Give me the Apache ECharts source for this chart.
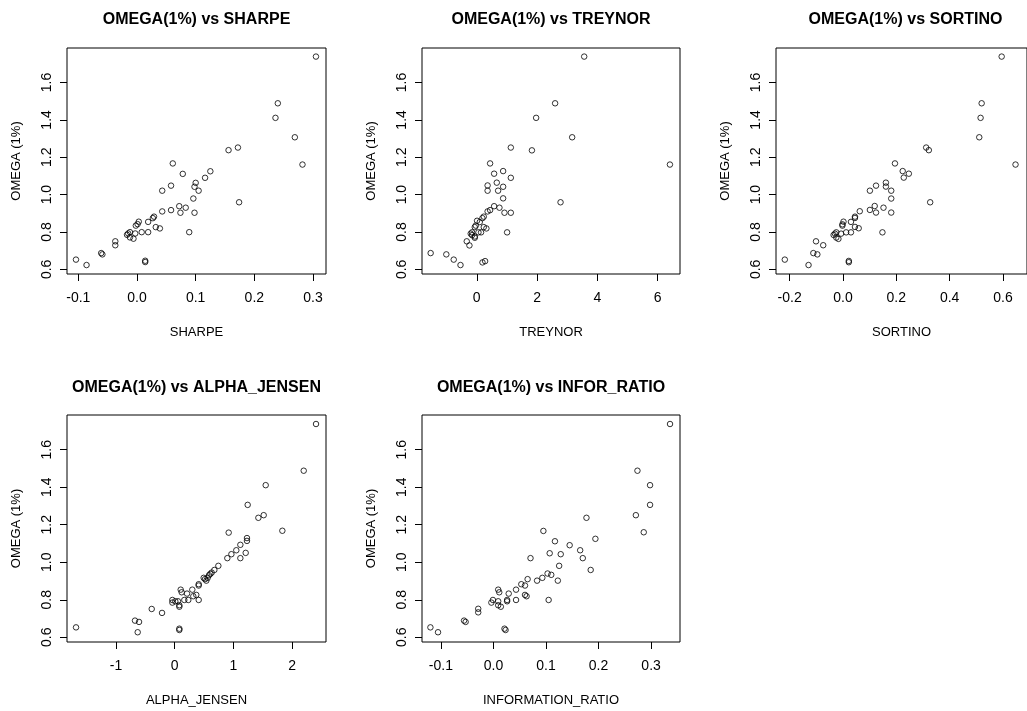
<!DOCTYPE html>
<html>
<head>
<meta charset="utf-8">
<script src="https://cdn.jsdelivr.net/npm/echarts@6/dist/echarts.min.js"></script>
<style>
html,body{margin:0;padding:0;background:#fff;}
#chart{width:1027px;height:711px;}
</style>
</head>
<body>
<div id="chart"></div>
<script>
// ---- Data ----
const panelTitles = ["OMEGA(1%) vs SHARPE", "OMEGA(1%) vs TREYNOR", "OMEGA(1%) vs SORTINO", "OMEGA(1%) vs ALPHA_JENSEN", "OMEGA(1%) vs INFOR_RATIO"];
const xNames = ["SHARPE", "TREYNOR", "SORTINO", "ALPHA_JENSEN", "INFORMATION_RATIO"];
const yName = "OMEGA (1%)";

const yTicks = [0.6, 0.8, 1.0, 1.2, 1.4, 1.6];
const yTickLabels = ["0.6", "0.8", "1.0", "1.2", "1.4", "1.6"];

const sharpeTicks = [-0.1, 0, 0.1, 0.2, 0.3];
const sharpeTickLabels = ["-0.1", "0.0", "0.1", "0.2", "0.3"];
const treynorTicks = [0, 2, 4, 6];
const treynorTickLabels = ["0", "2", "4", "6"];
const sortinoTicks = [-0.2, 0, 0.2, 0.4, 0.6];
const sortinoTickLabels = ["-0.2", "0.0", "0.2", "0.4", "0.6"];
const alphaTicks = [-1, 0, 1, 2];
const alphaTickLabels = ["-1", "0", "1", "2"];
const inforTicks = [-0.1, 0, 0.1, 0.2, 0.3];
const inforTickLabels = ["-0.1", "0.0", "0.1", "0.2", "0.3"];

// [x, omega]
const sharpePts = [[0.305,1.739],[0.240,1.489],[0.236,1.411],[0.269,1.307],[0.282,1.161],[0.156,1.238],[0.172,1.252],[0.174,0.959],[0.061,1.167],[0.078,1.111],[0.125,1.125],[0.116,1.090],[0.058,1.048],[0.043,1.021],[0.100,1.063],[0.098,1.042],[0.105,1.021],[0.096,0.979],[0.072,0.938],[0.083,0.930],[0.074,0.903],[0.058,0.917],[0.043,0.910],[0.098,0.903],[0.089,0.799],[0.029,0.882],[0.027,0.874],[0.032,0.826],[0.039,0.819],[0.019,0.854],[0.019,0.799],[0.008,0.799],[0.003,0.855],[0.001,0.842],[-0.002,0.834],[-0.003,0.792],[-0.006,0.764],[-0.012,0.799],[-0.015,0.792],[-0.017,0.785],[-0.012,0.771],[-0.037,0.750],[-0.037,0.729],[-0.061,0.687],[-0.059,0.680],[-0.104,0.652],[-0.086,0.623],[0.014,0.646],[0.014,0.639]];
const treynorPts = [[3.565,1.739],[2.60,1.489],[1.97,1.411],[3.166,1.307],[6.41,1.161],[1.83,1.237],[1.13,1.252],[2.78,0.959],[0.443,1.167],[0.576,1.112],[0.875,1.126],[1.13,1.090],[0.36,1.049],[0.36,1.021],[0.664,1.064],[0.875,1.042],[0.708,1.021],[0.875,0.980],[0.576,0.938],[0.753,0.930],[1.13,0.903],[0.443,0.917],[0.36,0.910],[0.92,0.903],[1.007,0.798],[0.233,0.882],[0.188,0.874],[0.10,0.853],[0.01,0.860],[-0.033,0.834],[-0.066,0.826],[0.233,0.826],[0.32,0.819],[0.143,0.798],[0.056,0.798],[-0.156,0.798],[-0.2,0.791],[-0.156,0.783],[-0.066,0.776],[-0.066,0.769],[-0.332,0.750],[-0.243,0.728],[-1.53,0.687],[-1.01,0.680],[-0.764,0.652],[-0.54,0.623],[0.19,0.637],[0.277,0.644]];
const sortinoPts = [[0.595,1.739],[0.520,1.489],[0.516,1.411],[0.511,1.307],[0.647,1.161],[0.322,1.238],[0.312,1.252],[0.327,0.959],[0.195,1.167],[0.247,1.112],[0.224,1.126],[0.228,1.091],[0.124,1.048],[0.101,1.021],[0.161,1.064],[0.161,1.043],[0.181,1.021],[0.181,0.979],[0.119,0.939],[0.152,0.930],[0.124,0.904],[0.101,0.918],[0.063,0.911],[0.181,0.904],[0.148,0.798],[0.045,0.882],[0.045,0.875],[0.030,0.854],[0.045,0.827],[0.059,0.820],[0.030,0.798],[0.012,0.798],[0.002,0.855],[-0.002,0.841],[-0.002,0.834],[-0.007,0.791],[-0.017,0.763],[-0.025,0.798],[-0.030,0.791],[-0.035,0.784],[-0.025,0.770],[-0.101,0.750],[-0.074,0.729],[-0.111,0.687],[-0.096,0.680],[-0.218,0.652],[-0.129,0.623],[0.022,0.645],[0.022,0.638]];
const alphaPts = [[2.409,1.737],[2.199,1.488],[1.551,1.411],[1.244,1.306],[1.426,1.237],[1.517,1.251],[1.835,1.168],[0.920,1.158],[1.232,1.129],[1.232,1.114],[1.119,1.093],[1.05,1.064],[0.966,1.043],[0.897,1.022],[1.119,1.022],[1.21,1.050],[0.744,0.981],[0.676,0.959],[0.63,0.945],[0.607,0.938],[0.585,0.931],[0.562,0.917],[0.516,0.910],[0.539,0.902],[0.494,0.917],[0.409,0.883],[0.409,0.876],[0.30,0.854],[0.21,0.833],[0.368,0.826],[0.317,0.819],[0.409,0.799],[0.102,0.854],[0.119,0.840],[0.232,0.799],[0.164,0.799],[-0.04,0.799],[-0.04,0.785],[0.01,0.792],[0.056,0.792],[0.079,0.771],[0.079,0.763],[-0.216,0.730],[-0.392,0.751],[-0.677,0.689],[-0.608,0.682],[-0.631,0.627],[-1.682,0.653],[0.079,0.646],[0.079,0.639]];
const inforPts = [[0.336,1.737],[0.274,1.488],[0.298,1.411],[0.298,1.306],[0.271,1.251],[0.177,1.237],[0.286,1.160],[0.095,1.167],[0.194,1.125],[0.117,1.112],[0.145,1.091],[0.165,1.064],[0.107,1.048],[0.128,1.043],[0.170,1.022],[0.0705,1.022],[0.125,0.981],[0.185,0.959],[0.103,0.940],[0.110,0.933],[0.093,0.917],[0.083,0.902],[0.1225,0.902],[0.105,0.799],[0.065,0.910],[0.053,0.883],[0.060,0.876],[0.043,0.854],[0.060,0.826],[0.063,0.819],[0.043,0.799],[0.029,0.833],[0.026,0.799],[0.026,0.792],[0.009,0.854],[0.011,0.840],[-0.001,0.799],[-0.004,0.785],[0.009,0.792],[0.009,0.771],[0.014,0.763],[-0.029,0.752],[-0.029,0.733],[-0.056,0.689],[-0.053,0.682],[-0.120,0.653],[-0.1055,0.627],[0.021,0.646],[0.023,0.639]];

// axis ranges (R-style 4% padding)
const xRanges = [[-0.1193, 0.3221], [-1.817, 6.744], [-0.251, 0.690], [-1.836, 2.579], [-0.136, 0.355]];
const yRange = [0.575, 1.785];

// ---- Layout ----
const grids = [
  {left: 67, top: 48, width: 259, height: 226},
  {left: 422, top: 48, width: 258, height: 226},
  {left: 776, top: 48, width: 259, height: 226},
  {left: 67, top: 415, width: 259, height: 227},
  {left: 422, top: 415, width: 258, height: 227}
];
const titleY = [12, 12, 12, 380, 380];

const allPts = [sharpePts, treynorPts, sortinoPts, alphaPts, inforPts];
const allTicks = [sharpeTicks, treynorTicks, sortinoTicks, alphaTicks, inforTicks];
const allTickLabels = [sharpeTickLabels, treynorTickLabels, sortinoTickLabels, alphaTickLabels, inforTickLabels];

const FONT = "'Liberation Sans', Arial, sans-serif";
function labelOf(ticks, labels) {
  return function (v) {
    for (let i = 0; i < ticks.length; i++) if (Math.abs(ticks[i] - v) < 1e-9) return labels[i];
    return '';
  };
}

const option = {
  animation: false,
  backgroundColor: '#fff',
  title: grids.map((g, i) => ({
    text: panelTitles[i],
    left: g.left + g.width / 2,
    top: titleY[i],
    textAlign: 'center',
    padding: 0,
    textStyle: {fontFamily: FONT, fontWeight: 'bold', fontSize: 16, color: '#000'}
  })),
  grid: grids.map(g => Object.assign({show: true, borderColor: '#000', borderWidth: 1, backgroundColor: 'transparent'}, g)),
  xAxis: grids.map((g, i) => ({
    type: 'value', gridIndex: i, position: 'bottom',
    min: xRanges[i][0], max: xRanges[i][1],
    name: xNames[i], nameLocation: 'middle', nameGap: 52,
    nameTextStyle: {fontFamily: FONT, fontSize: 13, color: '#000'},
    axisLine: {show: false, onZero: false},
    splitLine: {show: false},
    axisTick: {show: true, length: 7, lineStyle: {color: '#000', width: 1}, customValues: allTicks[i]},
    axisLabel: {show: true, margin: 17, fontFamily: FONT, fontSize: 14, color: '#000',
      customValues: allTicks[i], formatter: labelOf(allTicks[i], allTickLabels[i])}
  })),
  yAxis: grids.map((g, i) => ({
    type: 'value', gridIndex: i, position: 'left',
    min: yRange[0], max: yRange[1],
    name: yName, nameLocation: 'middle', nameGap: 44, nameRotate: 90,
    nameTextStyle: {fontFamily: FONT, fontSize: 13, color: '#000'},
    axisLine: {show: false, onZero: false},
    splitLine: {show: false},
    axisTick: {show: true, length: 7, lineStyle: {color: '#000', width: 1}, customValues: yTicks},
    axisLabel: {show: true, margin: 13, rotate: 90, fontFamily: FONT, fontSize: 14, color: '#000',
      customValues: yTicks, formatter: labelOf(yTicks, yTickLabels)}
  })),
  series: allPts.map((pts, i) => ({
    type: 'scatter', xAxisIndex: i, yAxisIndex: i,
    data: pts,
    symbol: 'circle', symbolSize: 5.5,
    itemStyle: {color: 'rgba(0,0,0,0)', borderColor: '#000', borderWidth: 1},
    emphasis: {disabled: true}
  }))
};

const chart = echarts.init(document.getElementById('chart'), null, {renderer: 'canvas'});
chart.setOption(option);
</script>
</body>
</html>
